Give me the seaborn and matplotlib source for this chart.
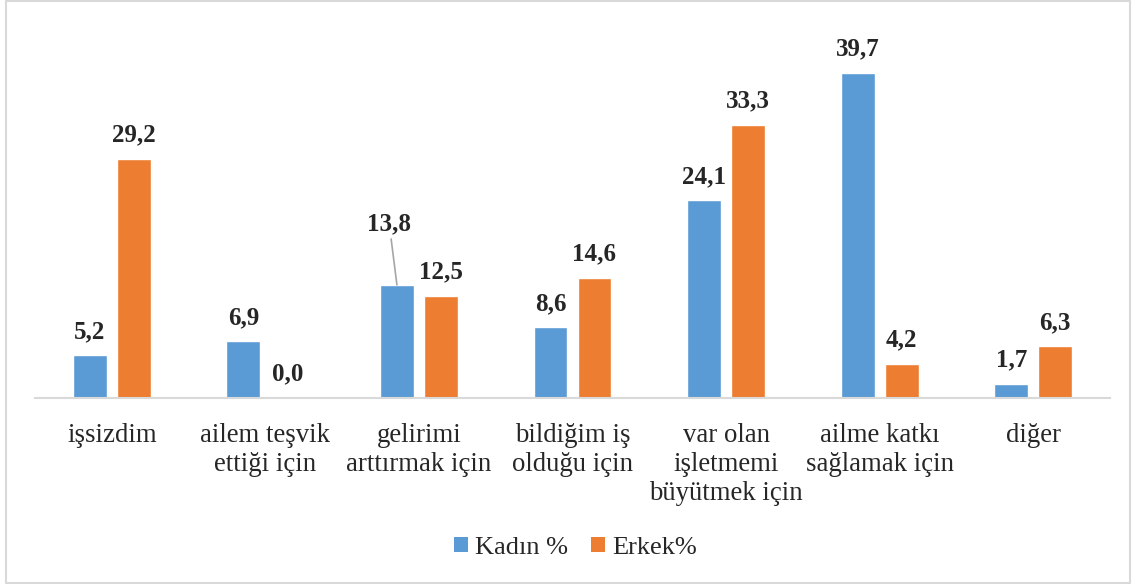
import matplotlib
matplotlib.use("Agg")
import matplotlib.pyplot as plt
import seaborn as sns
import pandas as pd
from matplotlib.patches import Rectangle, Patch

categories = ["işsizdim", "ailem teşvik\nettiği için", "gelirimi\narttırmak için",
              "bildiğim iş\nolduğu için", "var olan\nişletmemi\nbüyütmek için",
              "ailme katkı\nsağlamak için", "diğer"]
kadin = [5.2, 6.9, 13.8, 8.6, 24.1, 39.7, 1.7]
erkek = [29.2, 0.0, 12.5, 14.6, 33.3, 4.2, 6.3]
series = ["Kadın %", "Erkek%"]
colors = ["#5B9BD5", "#ED7D31"]

df = pd.DataFrame({
    "cat": categories * 2,
    "val": kadin + erkek,
    "ser": [series[0]] * len(categories) + [series[1]] * len(categories),
})

sns.set_theme(style="white")
plt.rcParams['font.family'] = 'serif'
plt.rcParams['font.serif'] = ['Liberation Serif', 'Times New Roman', 'DejaVu Serif']

W, H = 1132, 584
fig = plt.figure(figsize=(W / 100, H / 100), dpi=100)
ax = fig.add_axes([35 / W, (H - 398) / H, (1110 - 35) / W, (398 - 25) / H])

sns.barplot(data=df, x="cat", y="val", hue="ser", palette=colors, ax=ax,
            width=0.573, gap=0.23, legend=False, saturation=1, errorbar=None)

ax.set_ylim(0, 45.5)
ax.set_xlim(-0.5, len(categories) - 0.5)
ax.set_xlabel("")
ax.set_ylabel("")
ax.set_yticks([])
for s in ["top", "right", "left"]:
    ax.spines[s].set_visible(False)
ax.spines["bottom"].set_color("#D9D9D9")
ax.spines["bottom"].set_linewidth(1.5)
ax.tick_params(axis="x", length=0, pad=18, labelsize=19.3)
for lbl in ax.get_xticklabels():
    lbl.set_linespacing(1.2)

# value labels
for ci, cont in enumerate(ax.containers):
    for i, bar in enumerate(cont):
        v = bar.get_height()
        x = bar.get_x() + bar.get_width() / 2
        txt = f"{v:.1f}".replace(".", ",")
        if ci == 0 and i == 2:
            ax.annotate(txt, xy=(x, v), xytext=(x - 0.05, v + 6.0),
                        ha="center", va="bottom", fontsize=18, fontweight="bold",
                        arrowprops=dict(arrowstyle="-", color="#A6A6A6", lw=1.2,
                                        shrinkA=0, shrinkB=0))
        else:
            ax.annotate(txt, xy=(x, v), xytext=(0, 9), textcoords="offset points",
                        ha="center", va="bottom", fontsize=18, fontweight="bold")

handles = [Patch(facecolor=c, edgecolor="none") for c in colors]
fig.legend(handles, series, loc="center",
           bbox_to_anchor=(0.5 + 9.5 / W, (H - 548) / H),
           ncol=2, frameon=False, fontsize=19, handlelength=0.53, handleheight=0.53,
           handletextpad=0.25, columnspacing=0.9)

fig.patches.append(Rectangle((6 / W, 1 / H), (W - 8) / W, (H - 2) / H,
                             transform=fig.transFigure, fill=False,
                             edgecolor="#D9D9D9", linewidth=1.5))

fig.savefig("out.png", dpi=100)
